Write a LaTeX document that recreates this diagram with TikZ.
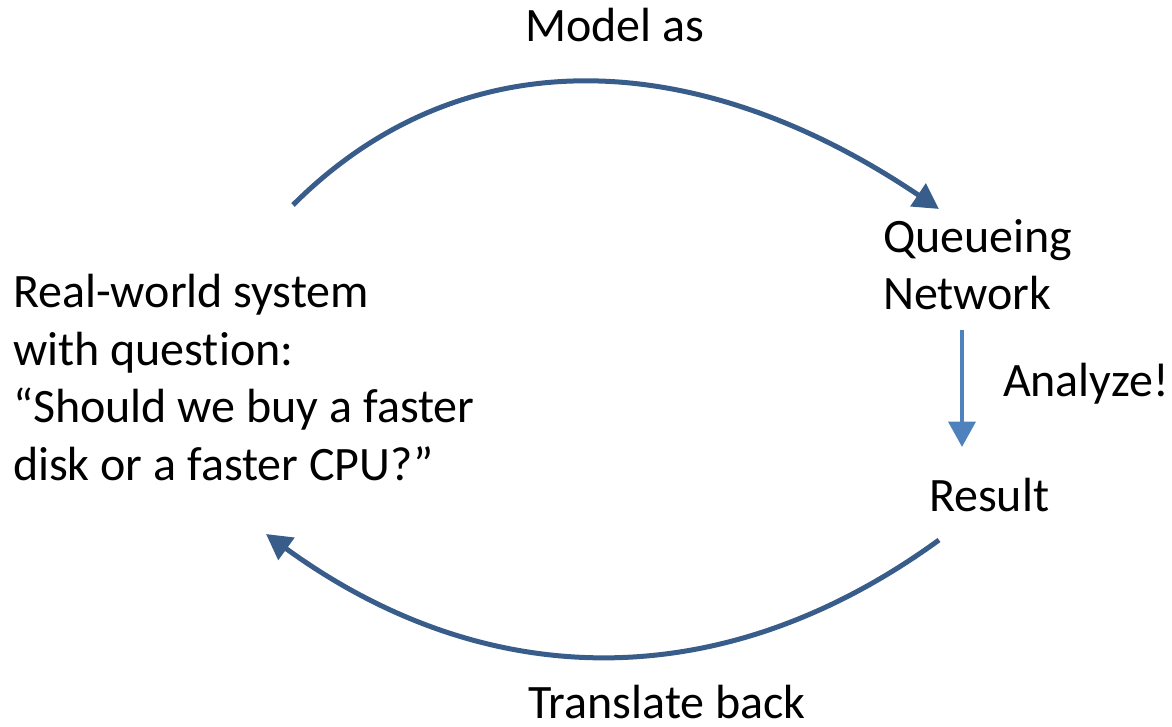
\documentclass[tikz,border=0pt]{standalone}
\usepackage{fontspec}
\setmainfont{Carlito}[Ligatures=NoCommon]
\usetikzlibrary{arrows.meta}
\definecolor{arcblue}{RGB}{56,93,138}
\definecolor{stepblue}{RGB}{79,129,189}
\tikzset{
  lbl/.style={inner sep=0pt, outer sep=0pt, align=left,
    font=\fontsize{36}{43.1}\selectfont},
  curvearrow/.style={draw=arcblue, line width=3.75pt,
    -{Triangle[length=19pt,width=20pt]}},
  downarrow/.style={draw=stepblue, line width=3.4pt,
    -{Triangle[length=19pt,width=20pt]}},
}
\begin{document}
\begin{tikzpicture}[x=0.75pt,y=-0.75pt]
  \useasboundingbox (0,0) rectangle (1172,727);

  % labels (multi-line nodes are placed by the baseline of their last line)
  \node[lbl, anchor=base west] (sys) at (13,480)
    {Real-world system\\with question:\\“Should we buy a faster\\disk or a faster CPU?”};
  \node[lbl, anchor=base] (model) at (615,42) {Model as};
  \node[lbl, anchor=base west] (qn) at (883,310) {Queueing\\Network};
  \node[lbl, anchor=base west] (analyze) at (1003,397) {Analyze!};
  \node[lbl, anchor=base west] (result) at (929,511) {Result};
  \node[lbl, anchor=base] (back) at (667,718) {Translate back};

  % arrow end points
  \coordinate (sysTop) at (293,205);
  \coordinate (qnIn) at (939,209);
  \coordinate (qnOut) at (962,330);
  \coordinate (resIn) at (962,447);
  \coordinate (resOut) at (939,540);
  \coordinate (sysIn) at (266,534);

  % cycle of arrows
  \draw[curvearrow] (sysTop) .. controls (463,35) and (699,47) .. (qnIn);
  \draw[downarrow] (qnOut) -- (resIn);
  \draw[curvearrow] (resOut) .. controls (720.6,698.8) and (484.4,692.8) .. (sysIn);
\end{tikzpicture}
\end{document}
